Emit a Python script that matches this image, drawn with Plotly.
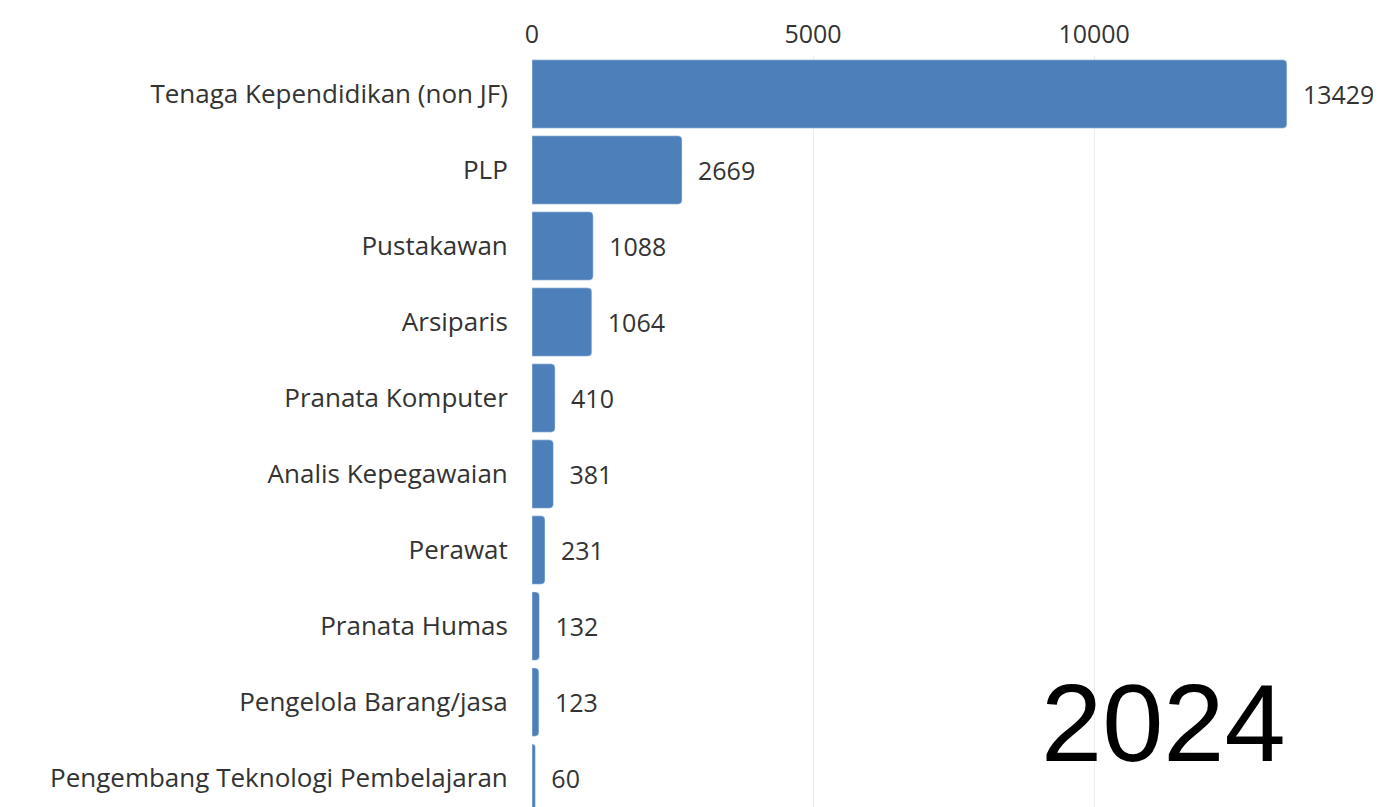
import plotly.graph_objects as go

categories = [
    "Tenaga Kependidikan (non JF)",
    "PLP",
    "Pustakawan",
    "Arsiparis",
    "Pranata Komputer",
    "Analis Kepegawaian",
    "Perawat",
    "Pranata Humas",
    "Pengelola Barang/jasa",
    "Pengembang Teknologi Pembelajaran",
]
values = [13429, 2669, 1088, 1064, 410, 381, 231, 132, 123, 60]
year_label = "2024"
tick_vals = [0, 5000, 10000]
tick_text = ["0", "5000", "10000"]

FONT = "Open Sans"
TXT = "#333333"
FS = 26

fig = go.Figure(
    go.Bar(
        x=values,
        y=categories,
        orientation="h",
        marker=dict(color="#4D7FBB", cornerradius=4),
        text=[str(v) for v in values],
        texttemplate="  %{text}",
        textposition="outside",
        cliponaxis=False,
        textfont=dict(family=FONT, size=25, color=TXT),
        hoverinfo="skip",
    )
)

fig.update_layout(
    width=1373,
    height=799,
    margin=dict(l=524, r=62, t=48, b=0),
    paper_bgcolor="white",
    plot_bgcolor="white",
    bargap=0.1,
    showlegend=False,
    font=dict(family=FONT, size=FS, color=TXT),
    xaxis=dict(
        side="top",
        range=[0, 14000],
        tickvals=tick_vals,
        ticktext=tick_text,
        showgrid=True,
        gridcolor="#ececec",
        gridwidth=1,
        zeroline=False,
        showline=False,
        ticks="outside",
        ticklen=2,
        tickcolor="rgba(0,0,0,0)",
        tickfont=dict(family=FONT, size=25, color=TXT),
    ),
    yaxis=dict(
        categoryorder="array",
        categoryarray=categories,
        range=[9.38, -0.5],
        showgrid=False,
        zeroline=False,
        showline=False,
        ticks="outside",
        ticklen=18,
        tickcolor="rgba(0,0,0,0)",
        tickfont=dict(family=FONT, size=FS, color=TXT),
    ),
    annotations=[
        dict(
            text=year_label,
            xref="paper",
            yref="paper",
            x=0.96,
            y=0.113,
            xanchor="right",
            yanchor="middle",
            showarrow=False,
            font=dict(family="Liberation Sans", size=110, color="black"),
        )
    ],
)

fig.write_html("out.html")
